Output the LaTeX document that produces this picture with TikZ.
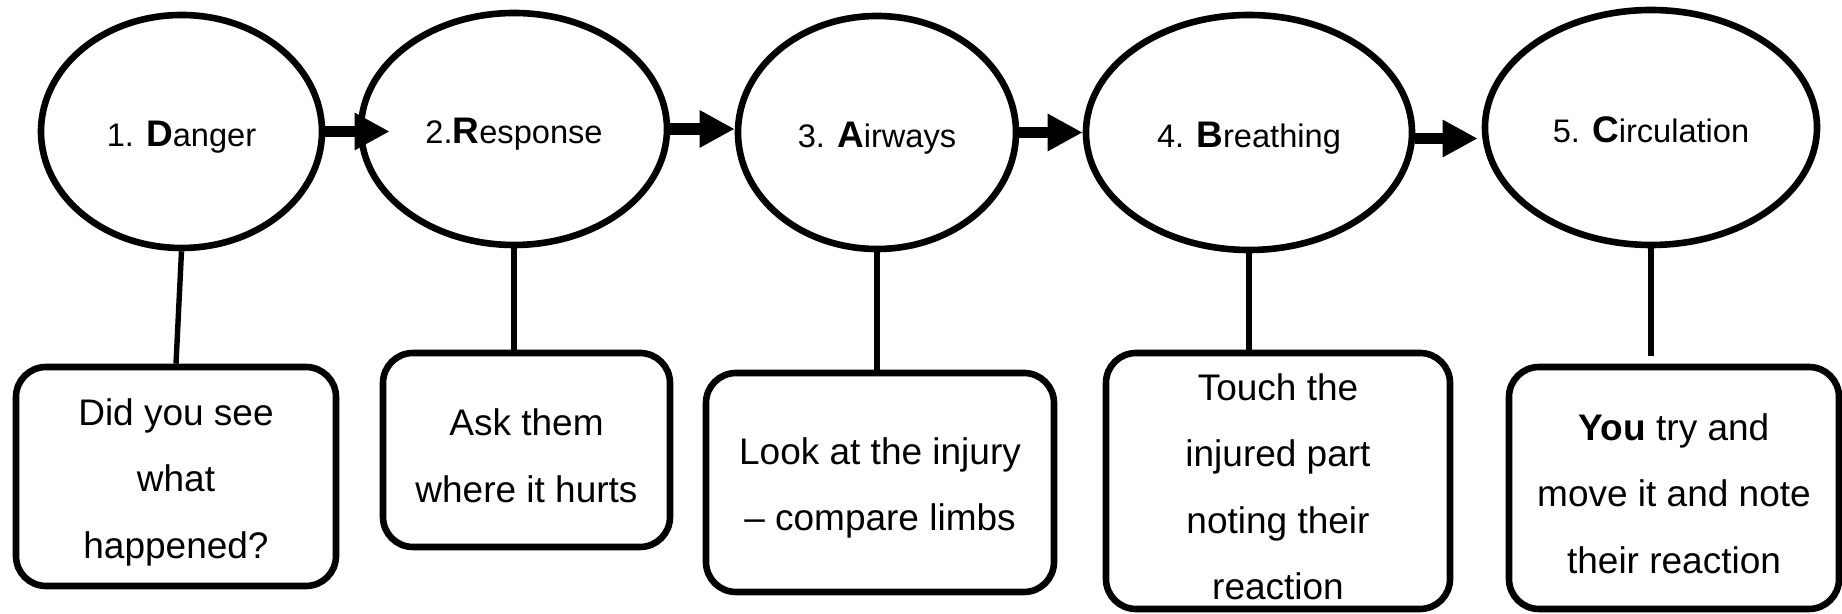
\documentclass[tikz,border=0pt]{standalone}
\usepackage{fontspec}
\setmainfont{Liberation Sans}
\usepackage{tikz}
\usetikzlibrary{shapes,arrows.meta}

\newcommand{\firstletter}[1]{{\fontsize{18.5pt}{21pt}\selectfont\bfseries #1}}
\newcommand{\tallline}{\rule{0pt}{19pt}}

\begin{document}
\begin{tikzpicture}[x=0.5pt, y=0.5pt,
  stage/.style = {draw=black, line width=3.3pt, ellipse, inner sep=0pt,
                  font=\fontsize{16.3pt}{19pt}\selectfont, text height=15pt, text depth=0pt},
  note/.style = {draw=black, line width=3.3pt, rounded corners=15pt, inner sep=0pt,
                 align=center, font=\fontsize{18.5pt}{33.25pt}\selectfont},
  flow/.style = {line width=5.8pt, -{Triangle[length=17.5pt,width=17.5pt]}},
  link/.style = {line width=2.7pt}]
\useasboundingbox (0,0) rectangle (1842,614);

% the five steps
\node[stage, minimum width=140.5pt, minimum height=116.5pt] (e1) at (181.5,482.5) {1. \firstletter{D}anger};
\node[stage, minimum width=153pt, minimum height=116pt] (e2) at (514,485) {2.\firstletter{R}esponse};
\node[stage, minimum width=139pt, minimum height=116.5pt] (e3) at (877,481.5) {3. \firstletter{A}irways};
\node[stage, minimum width=163pt, minimum height=117.5pt] (e4) at (1249,481.5) {4. \firstletter{B}reathing};
\node[stage, minimum width=166pt, minimum height=117.5pt] (e5) at (1651,486.5) {5. \firstletter{C}irculation};

% what to do
\node[note, minimum width=160pt, minimum height=109.5pt] (b1) at (176,137.5) {\tallline Did you see\\what\\happened?};
\node[note, minimum width=143.5pt, minimum height=97pt] (b2) at (526.5,164) {\tallline Ask them\\where it hurts};
\node[note, minimum width=174pt, minimum height=109.5pt] (b3) at (880,131.5) {\tallline Look at the injury\\– compare limbs};
\node[note, minimum width=172pt, minimum height=128pt] (b4) at (1278,133) {\tallline Touch the\\injured part\\noting their\\reaction};
\node[note, minimum width=165pt, minimum height=121pt] (b5) at (1674,126) {\tallline\textbf{You} try and\\move it and note\\their reaction};

% arrows
\draw[flow, shorten >=-16pt] (e1.east) -- (e1.east -| e2.west);
\draw[flow] (e2.east) -- (e2.east -| e3.west);
\draw[flow] (e3.east) -- (e3.east -| e4.west);
\coordinate (a45) at ([yshift=-3pt]e4.east);
\draw[flow, shorten >=2pt] (a45) -- (a45 -| e5.west);

% lines down
\draw[link] (e1.south) -- (b1.north);
\foreach \i in {2,3,4}
    \draw[link] (e\i.south) -- (e\i.south |- b\i.north);
\draw[link, shorten >=4pt] (e5.south) -- (e5.south |- b5.north);
\end{tikzpicture}
\end{document}
